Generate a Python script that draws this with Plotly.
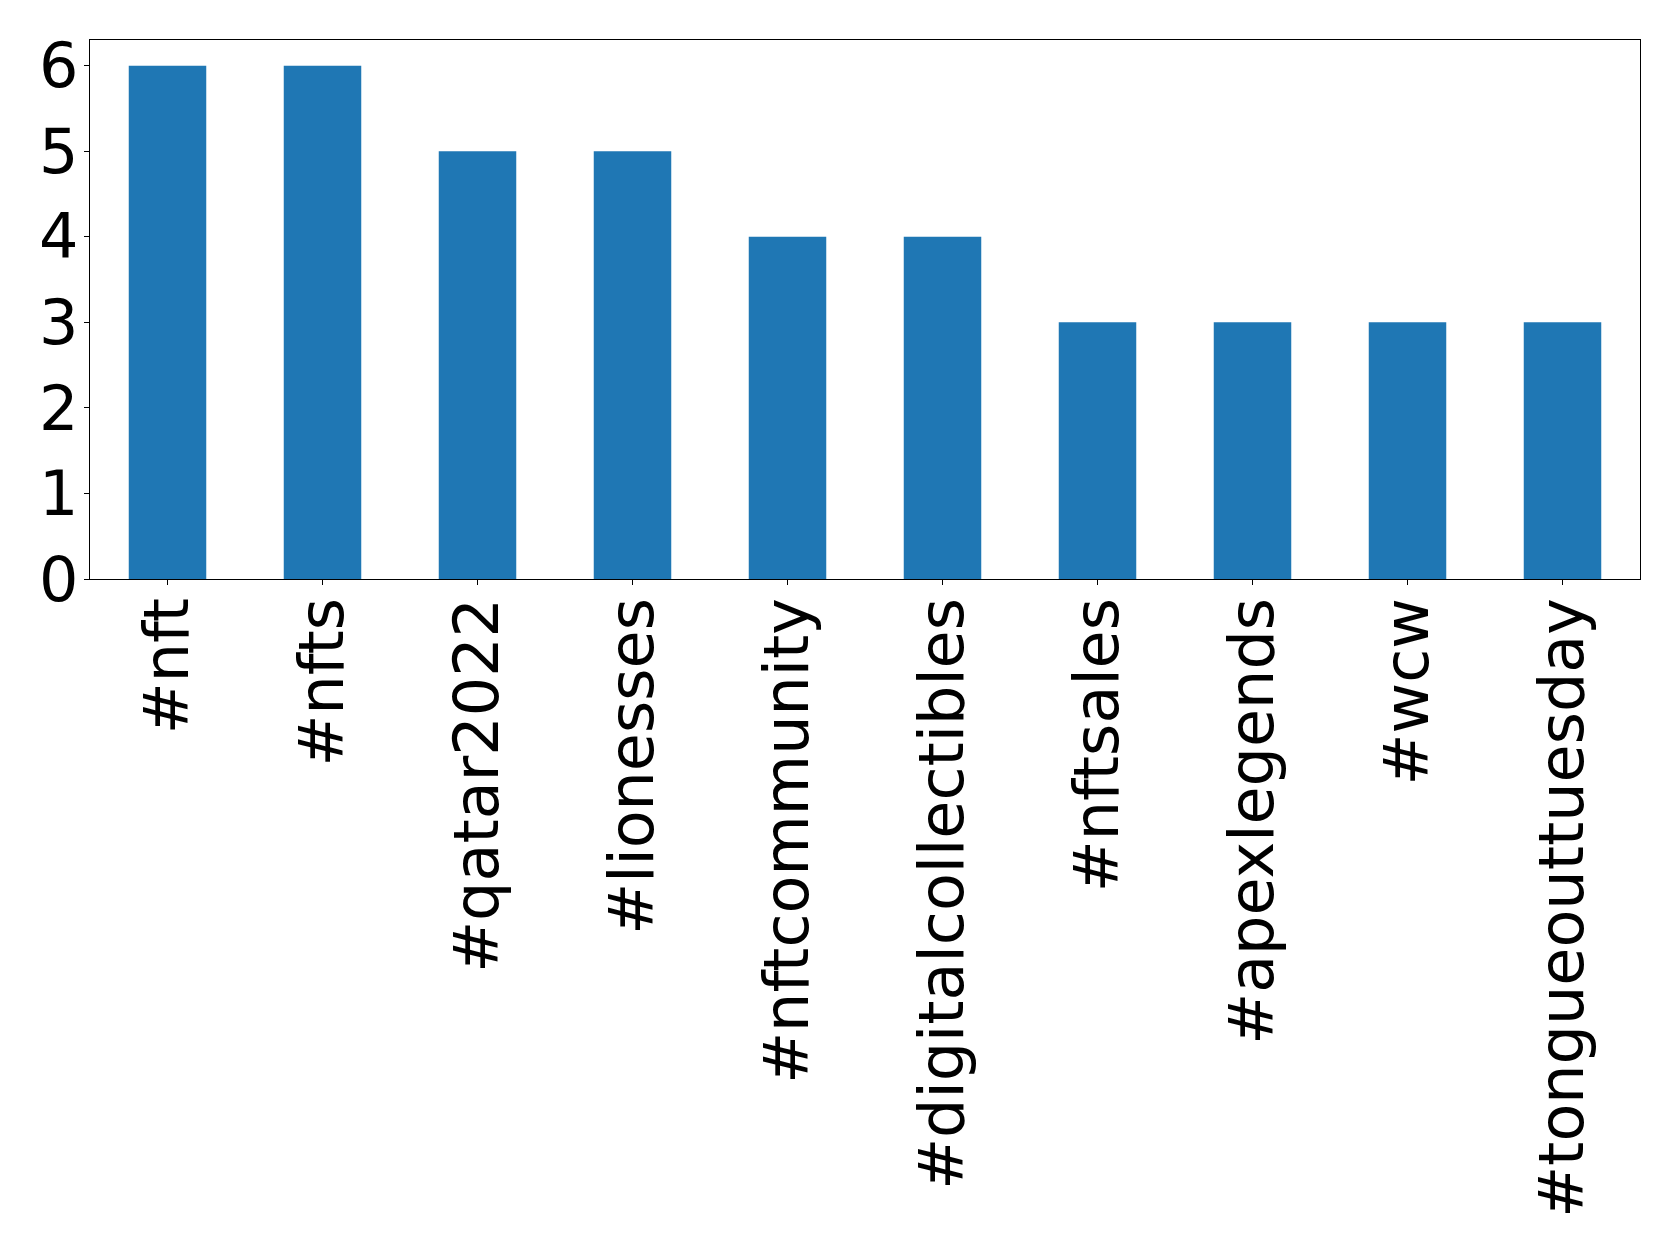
import plotly.graph_objects as go

categories = ["#nft", "#nfts", "#qatar2022", "#lionesses", "#nftcommunity",
              "#digitalcollectibles", "#nftsales", "#apexlegends", "#wcw",
              "#tongueouttuesday"]
counts = [6, 6, 5, 5, 4, 4, 3, 3, 3, 3]
y_ticks = [0, 1, 2, 3, 4, 5, 6]

fig = go.Figure(go.Bar(
    x=list(range(len(categories))), y=counts, width=0.5,
    marker=dict(color="#1f77b4", line=dict(width=0)),
))

axis_common = dict(
    showline=True, linecolor="black", linewidth=1.3, mirror=True,
    ticks="outside", ticklen=5, tickwidth=1.3, tickcolor="black",
    showgrid=False, zeroline=False, automargin=False,
    tickfont=dict(family="DejaVu Sans", size=62, color="black"),
)

# page body has an 8px default margin; compensate so the plot sits where the reference has it
fig.update_layout(
    width=1671, height=1245,
    margin=dict(l=82, r=39, t=32, b=674, pad=0),
    paper_bgcolor="white", plot_bgcolor="white",
    showlegend=False,
    xaxis=dict(
        **axis_common,
        range=[-0.5, 9.5],
        tickmode="array", tickvals=list(range(len(categories))),
        ticktext=categories, tickangle=-90, ticklabelstandoff=-12,
    ),
    yaxis=dict(
        **axis_common,
        range=[0, 6.3],
        tickmode="array", tickvals=y_ticks,
        ticktext=[str(v) for v in y_ticks], ticklabelstandoff=-7,
    ),
)

fig.write_html("out.html")
